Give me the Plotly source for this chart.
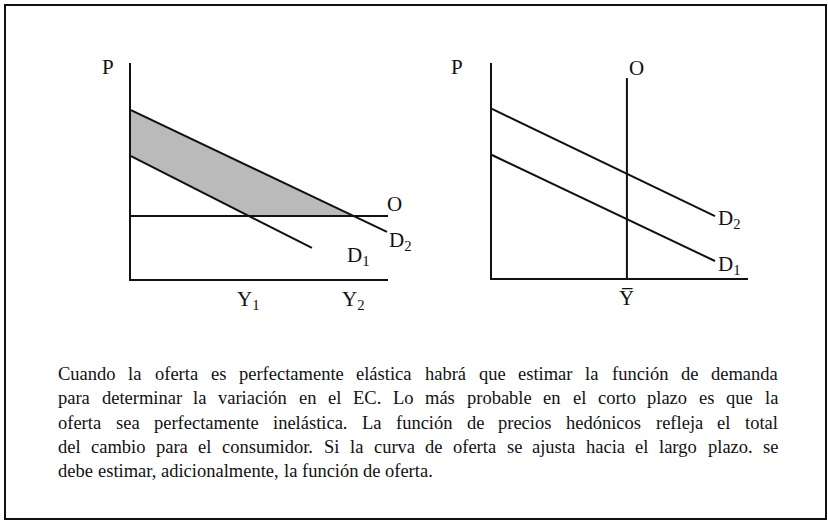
import plotly.graph_objects as go

W, H = 828, 521

# ---- left panel: perfectly elastic supply (O horizontal) ----
d1_left_q = [0.0, 7.04]
d1_left_p = [5.69, 1.44]
d2_left_q = [0.0, 9.96]
d2_left_p = [7.82, 2.18]
o_left_q = [0.0, 10.0]
o_left_p = [2.92, 2.92]

# ---- right panel: perfectly inelastic supply (O vertical) ----
d1_right_q = [0.0, 8.71]
d1_right_p = [5.72, 0.79]
d2_right_q = [0.0, 8.71]
d2_right_p = [7.86, 2.88]
o_right_q = [5.27, 5.27]
o_right_p = [0.0, 9.30]

caption_lines = [
    "Cuando la oferta es perfectamente elástica habrá que estimar la función de demanda",
    "para determinar la variación en el EC. Lo más probable en el corto plazo es que la",
    "oferta sea perfectamente inelástica. La función de precios hedónicos refleja el total",
    "del cambio para el consumidor. Si la curva de oferta se ajusta hacia el largo plazo. se",
    "debe estimar, adicionalmente, la función de oferta.",
]

SERIF = "Liberation Serif, Times New Roman, serif"
BLACK = "#111111"

AX_RANGE = [0, 10]
DOMAINS = {
    "left": dict(x=[131 / W, 388 / W], y=[1 - 279 / H, 1 - 63 / H]),
    "right": dict(x=[492 / W, 748 / W], y=[1 - 278 / H, 1 - 63 / H]),
}


def to_paper(panel, q, p):
    """Map a (quantity, price) pair of a panel onto paper coordinates."""
    dx, dy = DOMAINS[panel]["x"], DOMAINS[panel]["y"]
    span = AX_RANGE[1] - AX_RANGE[0]
    return (dx[0] + (q - AX_RANGE[0]) / span * (dx[1] - dx[0]),
            dy[0] + (p - AX_RANGE[0]) / span * (dy[1] - dy[0]))


def q_at_price(qs, ps, p):
    """Quantity on a straight demand line at price p."""
    return qs[0] + (p - ps[0]) * (qs[1] - qs[0]) / (ps[1] - ps[0])


q1_star = q_at_price(d1_left_q, d1_left_p, o_left_p[0])
q2_star = q_at_price(d2_left_q, d2_left_p, o_left_p[0])

fig = go.Figure()

# shaded change in consumer surplus
fig.add_trace(go.Scatter(
    x=[d2_left_q[0], q2_star, q1_star, d1_left_q[0], d2_left_q[0]],
    y=[d2_left_p[0], o_left_p[0], o_left_p[0], d1_left_p[0], d2_left_p[0]],
    fill="toself", fillcolor="rgb(186,186,186)", mode="lines",
    line=dict(width=0), xaxis="x", yaxis="y", hoverinfo="skip"))

line_style = dict(color=BLACK, width=2)
for qs, ps, ax, ay in [
    (o_left_q, o_left_p, "x", "y"),
    (d1_left_q, d1_left_p, "x", "y"),
    (d2_left_q, d2_left_p, "x", "y"),
    (o_right_q, o_right_p, "x2", "y2"),
    (d1_right_q, d1_right_p, "x2", "y2"),
    (d2_right_q, d2_right_p, "x2", "y2"),
]:
    fig.add_trace(go.Scatter(x=qs, y=ps, mode="lines", line=line_style,
                             xaxis=ax, yaxis=ay, hoverinfo="skip"))

axis_common = dict(range=AX_RANGE, showline=True, linewidth=2, linecolor=BLACK,
                   showgrid=False, zeroline=False, showticklabels=False,
                   ticks="", fixedrange=True)

fig.update_layout(
    width=W, height=H,
    margin=dict(l=0, r=0, t=0, b=0),
    paper_bgcolor="white", plot_bgcolor="white",
    showlegend=False,
    xaxis=dict(domain=DOMAINS["left"]["x"], anchor="y", **axis_common),
    yaxis=dict(domain=DOMAINS["left"]["y"], anchor="x", **axis_common),
    xaxis2=dict(domain=DOMAINS["right"]["x"], anchor="y2", **axis_common),
    yaxis2=dict(domain=DOMAINS["right"]["y"], anchor="x2", **axis_common),
)

label_font = dict(family=SERIF, size=21, color=BLACK)
labels = [
    # left panel
    ("left", -0.9, 9.81, "P", "center"),
    ("left", 10.27, 3.47, "O", "center"),
    ("left", 9.98, 1.75, "D<sub>2</sub>", "left"),
    ("left", 8.33, 1.05, "D<sub>1</sub>", "left"),
    ("left", q1_star, -0.95, "Y<sub>1</sub>", "center"),
    ("left", q2_star, -0.95, "Y<sub>2</sub>", "center"),
    # right panel
    ("right", -1.37, 9.81, "P", "center"),
    ("right", 5.66, 9.77, "O", "center"),
    ("right", 8.75, 2.73, "D<sub>2</sub>", "left"),
    ("right", 8.75, 0.59, "D<sub>1</sub>", "left"),
    ("right", o_right_q[0], -0.93, "Y\u0305", "center"),
]
for panel, q, p, txt, anchor in labels:
    px_, py_ = to_paper(panel, q, p)
    fig.add_annotation(xref="paper", yref="paper", x=px_, y=py_, text=txt,
                       showarrow=False, xanchor=anchor, yanchor="middle",
                       font=label_font)

# ---- justified caption, laid out word by word with Times metrics ----
TIMES_W = {
    " ": 250, "a": 444, "b": 500, "c": 444, "d": 500, "e": 444, "f": 333,
    "g": 500, "h": 500, "i": 278, "j": 278, "k": 500, "l": 278, "m": 778,
    "n": 500, "o": 500, "p": 500, "q": 500, "r": 333, "s": 389, "t": 278,
    "u": 500, "v": 500, "w": 722, "x": 500, "y": 500, "z": 444,
    "C": 667, "E": 611, "L": 611, "S": 556, ".": 250, ",": 250,
    "á": 444, "é": 444, "í": 278, "ó": 500, "ú": 500,
}
CAP_SIZE = 18.5
CAP_LEFT, CAP_RIGHT = 57, 777
CAP_TOP, CAP_STEP = 374, 24.3


def text_width(s):
    return sum(TIMES_W.get(ch, 500) for ch in s) * CAP_SIZE / 1000


cap_font = dict(family=SERIF, size=CAP_SIZE, color=BLACK)
for i, line in enumerate(caption_lines):
    y_px = CAP_TOP + i * CAP_STEP
    words = line.split(" ")
    last = i == len(caption_lines) - 1
    widths = [text_width(w) for w in words]
    if last or len(words) < 2:
        gap = text_width(" ")
    else:
        gap = (CAP_RIGHT - CAP_LEFT - sum(widths)) / (len(words) - 1)
    x_px = CAP_LEFT
    for w, wd in zip(words, widths):
        fig.add_annotation(xref="paper", yref="paper", x=x_px / W, y=1 - y_px / H,
                           text=w, showarrow=False, xanchor="left",
                           yanchor="middle", font=cap_font,
                           borderpad=0)
        x_px += wd + gap

# outer frame
fig.add_shape(type="rect", xref="paper", yref="paper",
              x0=5 / W, x1=826 / W, y0=1 - 519 / H, y1=1 - 5 / H,
              line=dict(color=BLACK, width=2), fillcolor="rgba(0,0,0,0)")

fig.write_html("out.html")
